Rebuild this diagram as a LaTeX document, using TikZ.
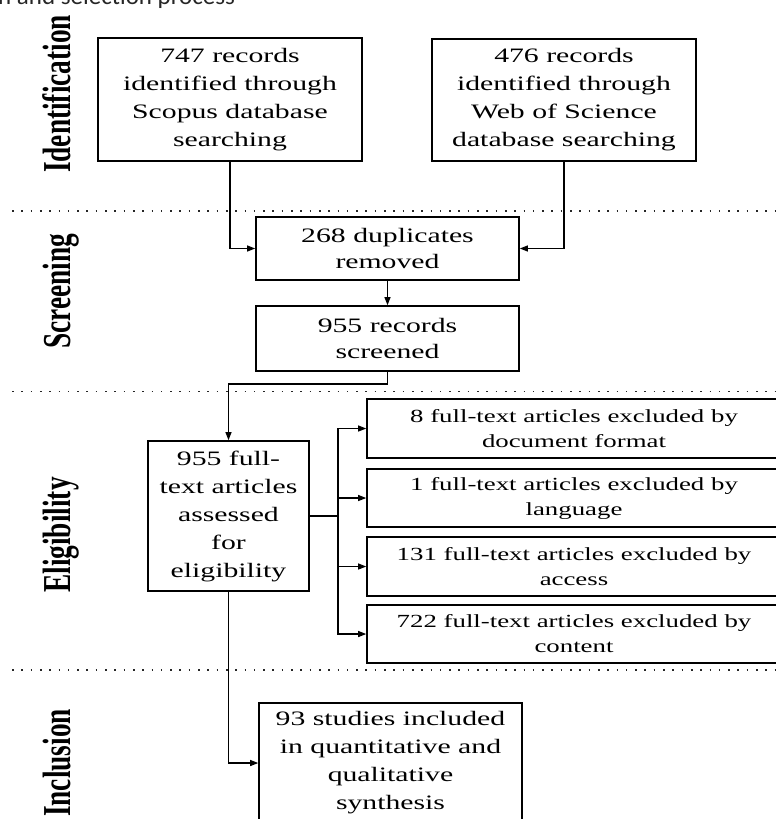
\documentclass[tikz,border=0pt]{standalone}
\usepackage{fontspec}
\setmainfont{Liberation Serif}
\newfontfamily\boxfont[FakeStretch=1.45]{Liberation Serif}
\newfontfamily\labfont[FakeStretch=0.69]{Liberation Serif Bold}
\newfontfamily\capfont{Carlito}
\usetikzlibrary{arrows.meta}
\tikzset{
  prbox/.style={draw, line width=1.6pt, inner sep=0pt, align=center,
    font=\boxfont\fontsize{20.5}{28}\selectfont},
  smallbox/.style={prbox, font=\boxfont\fontsize{20.5}{26}\selectfont},
  exbox/.style={prbox, minimum width=414pt, font=\boxfont\fontsize{18.5}{25}\selectfont},
  phase/.style={rotate=90, anchor=base, inner sep=0pt,
    font=\labfont\fontsize{39.6}{40}\selectfont},
  conn/.style={line width=1.1pt, -{Triangle[length=8pt,width=6pt]}},
  plain/.style={line width=1.1pt},
  dotline/.style={line width=1.6pt, dash pattern=on 1.6pt off 7.7pt, black!85}
}
\begin{document}
\begin{tikzpicture}[x=1pt,y=-1pt]
\useasboundingbox (0,0) rectangle (776,819);
% caption fragment
\node[anchor=base west, inner sep=0pt, font=\capfont\fontsize{25}{30}\selectfont, black!85] (cap) at (-2,4.5) {n and selection process};
% phase labels
\node[phase] (lid) at (70,94) {Identification};
\node[phase] (lsc) at (70,291) {Screening};
\node[phase] (lel) at (70,535) {Eligibility};
\node[phase] (lin) at (70,763) {Inclusion};
% dotted separators
\draw[dotline] (12,211) -- (780,211);
\draw[dotline] (12,391.5) -- (780,391.5);
\draw[dotline] (12,670) -- (780,670);
% boxes
\node[prbox, minimum width=264pt, minimum height=123pt] (b1) at (230,99.5) {747 records\\identified through\\Scopus database\\searching};
\node[prbox, minimum width=264pt, minimum height=122pt] (b2) at (564,100) {476 records\\identified through\\Web of Science\\database searching};
\node[smallbox, minimum width=263pt, minimum height=63pt] (b3) at (387.5,248.5) {268 duplicates\\removed};
\node[smallbox, minimum width=263pt, minimum height=65pt] (b4) at (387.5,338.5) {955 records\\screened};
\node[prbox, minimum width=161pt, minimum height=150pt] (b5) at (228.5,516) {955 full-\\text articles\\assessed\\for\\eligibility};
\node[exbox, minimum height=59pt] (e1) at (574,428.5) {8 full-text articles excluded by\\document format};
\node[exbox, minimum height=58pt] (e2) at (574,498) {1 full-text articles excluded by\\language};
\node[exbox, minimum height=59pt] (e3) at (574,566.5) {131 full-text articles excluded by\\access};
\node[exbox, minimum height=58pt] (e4) at (574,634) {722 full-text articles excluded by\\content};
\node[prbox, minimum width=263pt, minimum height=120pt] (b6) at (390.5,763) {93 studies included\\in quantitative and\\qualitative\\synthesis};
% connectors
\draw[conn] (b1.south) |- (b3.west);
\draw[conn] (b2.south) |- (b3.east);
\draw[conn] (b3.south) -- (b4.north);
\coordinate (k1) at (387.5,384);
\draw[conn] (b4.south) -- (k1) -| (b5.north);
\coordinate (stem) at (338,516);
\draw[plain] (b5.east) -- (stem);
\draw[conn] (stem) |- (e1.west);
\draw[conn] (stem) |- (e2.west);
\draw[conn] (stem) |- (e3.west);
\draw[conn] (stem) |- (e4.west);
\draw[conn] (b5.south) |- (b6.west);
\end{tikzpicture}
\end{document}
